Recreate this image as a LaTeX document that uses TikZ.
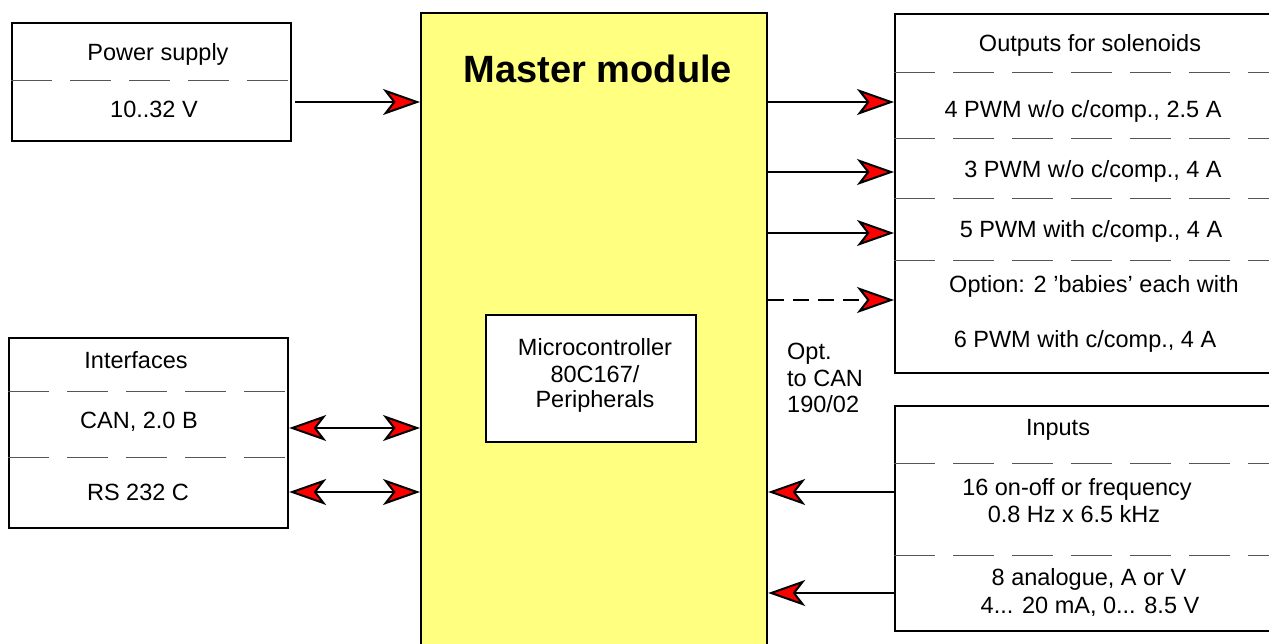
\documentclass[tikz,border=0pt]{standalone}
\usepackage{fontspec}
\setmainfont{Liberation Sans}
\usetikzlibrary{arrows.meta}
\definecolor{masteryellow}{RGB}{255,255,128}
\definecolor{sepgray}{RGB}{85,85,85}
\begin{document}
\begin{tikzpicture}[x=1pt,y=-1pt,
  box/.style={draw=black, line width=2.2pt, inner sep=0pt, anchor=north west},
  sepline/.style={draw=sepgray, line width=1pt, dash pattern=on 41pt off 18pt},
  lbl/.style={font=\fontsize{23.5}{27}\selectfont, inner sep=0pt, anchor=base},
  redtip/.tip={Stealth[length=37pt,width=26pt,inset=10pt,fill=red,line width=2pt]},
  arr/.style={line width=2.4pt, -redtip},
  biarr/.style={line width=2.4pt, redtip-redtip},
]
\useasboundingbox (0,0) rectangle (1269,643);
\clip (0,0) rectangle (1269,643);

% Master module
\node[box, fill=masteryellow, minimum width=346pt, minimum height=660pt] (master) at (420,12) {};
\node[font=\fontsize{38}{42}\selectfont\bfseries, inner sep=0pt, anchor=base] (mtitle) at (598,82) {Master module};

% Microcontroller
\node[box, fill=white, line width=2pt, minimum width=210pt, minimum height=127pt] (mc) at (485,314) {};
\node[lbl] (mc1) at (595,355) {Microcontroller};
\node[lbl] (mc2) at (595,382) {80C167/};
\node[lbl] (mc3) at (595,407) {Peripherals};

% Power supply
\node[box, minimum width=279pt, minimum height=118pt] (ps) at (11,22) {};
\draw[sepline] (11,80) -- (290,80);
\node[lbl] (ps1) at (158,60) {Power supply};
\node[lbl] (ps2) at (154,117) {10..32 V};

% Interfaces
\node[box, minimum width=279pt, minimum height=190pt] (intf) at (8,337) {};
\draw[sepline] (8,391) -- (287,391);
\draw[sepline] (8,457) -- (287,457);
\node[lbl] (if1) at (136,368) {Interfaces};
\node[lbl] (if2) at (139,428) {CAN, 2.0 B};
\node[lbl] (if3) at (138,500) {RS 232 C};

% Outputs
\node[box, minimum width=420pt, minimum height=359pt] (out) at (894,13) {};
\draw[sepline] (894,72) -- (1300,72);
\draw[sepline] (894,138) -- (1300,138);
\draw[sepline] (894,198) -- (1300,198);
\draw[sepline] (894,260) -- (1300,260);
\node[lbl] (o0) at (1090,51) {Outputs for solenoids};
\node[lbl] (o1) at (1083,117) {4 PWM w/o c/comp., 2.5 A};
\node[lbl] (o2) at (1093,177) {3 PWM w/o c/comp., 4 A};
\node[lbl] (o3) at (1091,237) {5 PWM with c/comp., 4 A};
\node[lbl] (o4) at (1094,292) {Option: 2 'babies' each with};
\node[lbl] (o5) at (1085,347) {6 PWM with c/comp., 4 A};

% Opt. to CAN
\node[lbl, anchor=base west] (opt1) at (787,359) {Opt.};
\node[lbl, anchor=base west] (opt2) at (787,386) {to CAN};
\node[lbl, anchor=base west] (opt3) at (787,412) {190/02};

% Inputs
\node[box, minimum width=420pt, minimum height=225pt] (inp) at (894,405) {};
\draw[sepline] (894,463) -- (1300,463);
\draw[sepline] (894,555) -- (1300,555);
\node[lbl] (i0) at (1058,435) {Inputs};
\node[lbl] (i1) at (1077,495) {16 on-off or frequency};
\node[lbl] (i2) at (1074,522) {0.8 Hz x 6.5 kHz};
\node[lbl] (i3) at (1089,585) {8 analogue, A or V};
\node[lbl] (i4) at (1090,613) {4... 20 mA, 0... 8.5 V};

% level coordinates
\coordinate (yps) at (0,102);
\coordinate (yo1) at (0,102);
\coordinate (yo2) at (0,172);
\coordinate (yo3) at (0,233);
\coordinate (yo4) at (0,300);
\coordinate (yc1) at (0,428);
\coordinate (yc2) at (0,492);
\coordinate (yi1) at (0,492);
\coordinate (yi2) at (0,593);
\coordinate (psstart) at (295,102);

% Connectors
\draw[arr] (psstart) -- (master.west |- yps);
\draw[arr] (master.east |- yo1) -- (out.west |- yo1);
\draw[arr] (master.east |- yo2) -- (out.west |- yo2);
\draw[arr] (master.east |- yo3) -- (out.west |- yo3);
\draw[arr, dash pattern=on 16pt off 9pt] (master.east |- yo4) -- (out.west |- yo4);
\draw[biarr] (intf.east |- yc1) -- (master.west |- yc1);
\draw[biarr] (intf.east |- yc2) -- (master.west |- yc2);
\draw[arr] (inp.west |- yi1) -- (master.east |- yi1);
\draw[arr] (inp.west |- yi2) -- (master.east |- yi2);
\end{tikzpicture}
\end{document}
